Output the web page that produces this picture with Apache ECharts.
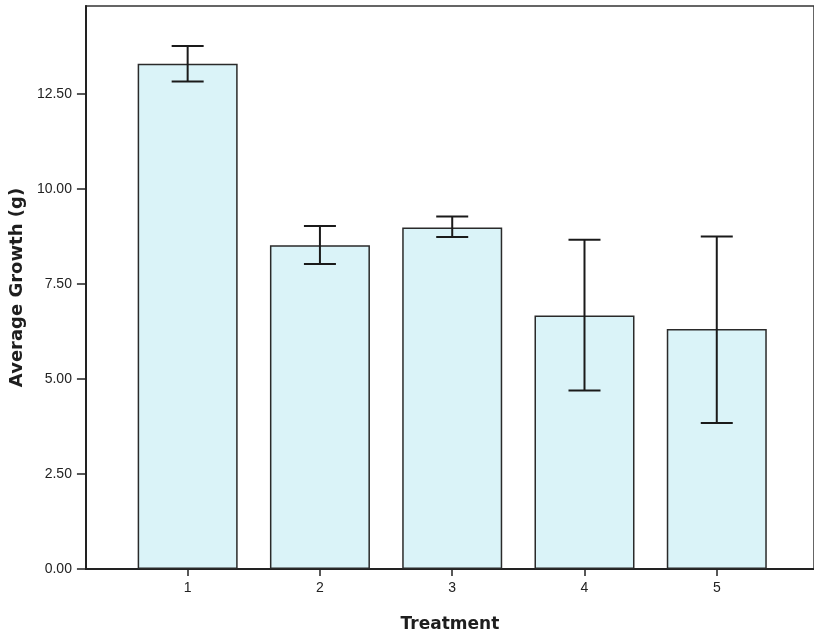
<!DOCTYPE html>
<html><head><meta charset="utf-8">
<script src="https://cdn.jsdelivr.net/npm/echarts@6/dist/echarts.min.js"></script>
<style>html,body{margin:0;padding:0;background:#fff}#c{width:814px;height:638px}</style>
</head><body><div id="c"></div>
<script>
const categories = [1, 2, 3, 4, 5];
const means = [13.30, 8.52, 8.99, 6.67, 6.32];
const errLow = [12.83, 8.03, 8.74, 4.70, 3.84];
const errHigh = [13.77, 9.03, 9.28, 8.67, 8.75];
const yTicks = [0, 2.5, 5, 7.5, 10, 12.5];

const chart = echarts.init(document.getElementById('c'), null, {renderer: 'canvas'});
const font = '"Liberation Sans", Arial, sans-serif';
const titleFont = '"DejaVu Sans", sans-serif';
chart.setOption({
  animation: false,
  backgroundColor: '#fff',
  grid: {left: 82, top: 6, right: -2, bottom: 68, show: true, borderColor: '#333', borderWidth: 1.5, backgroundColor: 'transparent'},
  xAxis: {
    type: 'value', min: 0.231, max: 5.735,
    name: 'Treatment', nameLocation: 'middle', nameGap: 47,
    nameTextStyle: {fontFamily: titleFont, fontWeight: 'bold', fontSize: 17, color: '#1e1e1e'},
    axisLine: {show: true, lineStyle: {color: '#222', width: 2}},
    axisTick: {show: true, customValues: categories, length: 7, lineStyle: {color: '#222', width: 1.5}},
    axisLabel: {customValues: categories, fontFamily: font, fontSize: 14, color: '#222', margin: 12, formatter: v => String(v)},
    splitLine: {show: false}
  },
  yAxis: {
    type: 'value', min: 0, max: 14.82,
    name: 'Average Growth (g)', nameLocation: 'middle', nameGap: 55, nameRotate: 90,
    nameTextStyle: {fontFamily: titleFont, fontWeight: 'bold', fontSize: 18, color: '#1e1e1e'},
    axisLine: {show: true, lineStyle: {color: '#222', width: 2}},
    axisTick: {show: true, customValues: yTicks, length: 9, lineStyle: {color: '#222', width: 1.5}},
    axisLabel: {customValues: yTicks, fontFamily: font, fontSize: 14, color: '#222', margin: 14, formatter: v => v.toFixed(2)},
    splitLine: {show: false}
  },
  series: [
    {
      type: 'bar', barWidth: 100,
      data: categories.map((c, i) => [c, means[i]]),
      itemStyle: {color: '#daf3f8', borderColor: '#2a2a2a', borderWidth: 1.5},
      z: 2
    },
    {
      type: 'custom',
      data: categories.map((c, i) => [c, errLow[i], errHigh[i]]),
      renderItem: function (params, api) {
        const x = api.value(0);
        const lo = api.coord([x, api.value(1)]);
        const hi = api.coord([x, api.value(2)]);
        const hw = 16;
        const st = {stroke: '#1a1a1a', lineWidth: 2};
        return {type: 'group', children: [
          {type: 'line', shape: {x1: lo[0], y1: lo[1], x2: hi[0], y2: hi[1]}, style: st},
          {type: 'line', shape: {x1: lo[0] - hw, y1: lo[1], x2: lo[0] + hw, y2: lo[1]}, style: st},
          {type: 'line', shape: {x1: hi[0] - hw, y1: hi[1], x2: hi[0] + hw, y2: hi[1]}, style: st}
        ]};
      },
      z: 5
    }
  ]
});
</script>
</body></html>
